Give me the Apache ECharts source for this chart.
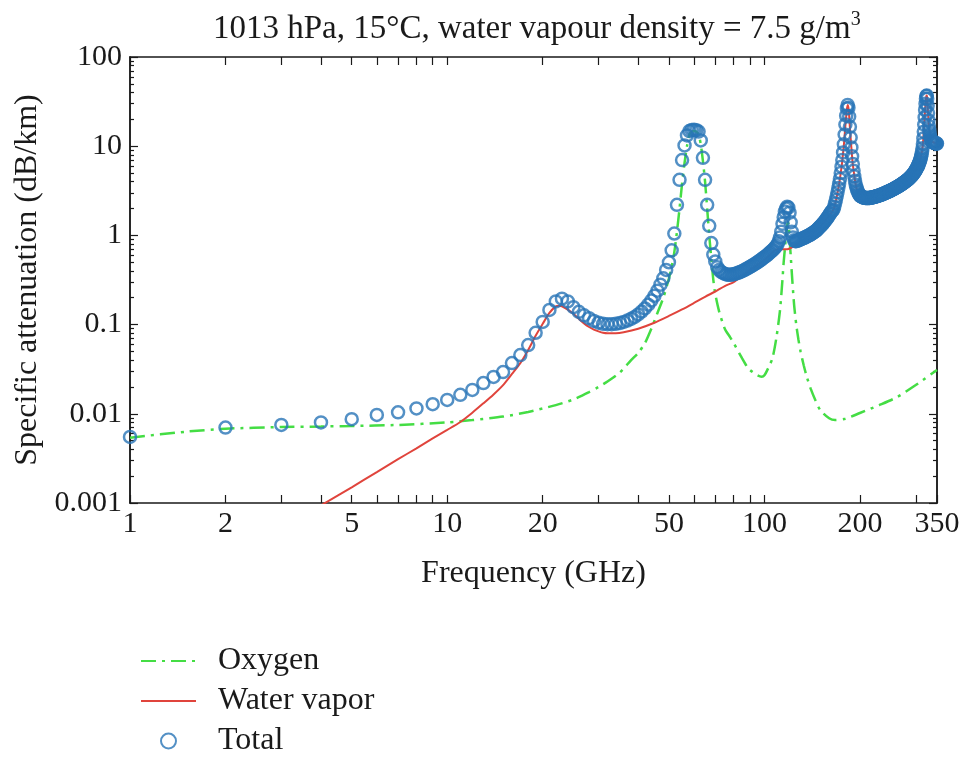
<!DOCTYPE html>
<html>
<head>
<meta charset="utf-8">
<script src="https://cdn.jsdelivr.net/npm/echarts@6/dist/echarts.min.js"></script>
<style>html,body{margin:0;padding:0;background:#fff}#c{width:966px;height:757px}</style>
</head>
<body>
<div id="c"></div>
<script>
// ---- axis ticks / labels ----
const xTickLabels = [1, 2, 5, 10, 20, 50, 100, 200, 350];
const xTicks = [1, 2, 3, 4, 5, 6, 7, 8, 9, 10, 20, 30, 40, 50, 60, 70, 80, 90, 100, 200, 300, 350];
const yTickLabels = [0.001, 0.01, 0.1, 1, 10, 100];
const yMinorTicks = [0.002, 0.003, 0.004, 0.005, 0.006, 0.007, 0.008, 0.009,
  0.02, 0.03, 0.04, 0.05, 0.06, 0.07, 0.08, 0.09,
  0.2, 0.3, 0.4, 0.5, 0.6, 0.7, 0.8, 0.9,
  2, 3, 4, 5, 6, 7, 8, 9,
  20, 30, 40, 50, 60, 70, 80, 90];

// ---- series: [frequency GHz, dB/km] ----
const oxygen = [
  [1, 0.0054], [1.5, 0.0063], [2, 0.0068], [3, 0.0071], [4, 0.0072], [5, 0.0073], [7, 0.0075],
  [10, 0.0080], [12, 0.0085], [15, 0.0093], [18, 0.0105], [20, 0.0115], [22, 0.0125], [25, 0.0145],
  [28, 0.0175], [30, 0.020], [32, 0.023], [35, 0.029], [38, 0.040], [40, 0.048], [42, 0.062],
  [44, 0.090], [46, 0.135], [48, 0.20], [50, 0.33], [51, 0.45], [52, 0.65], [53, 1.1], [54, 2.0],
  [55, 3.8], [56, 6.5], [57, 10], [58, 13.5], [59, 14.5], [60, 14.8], [61, 14.5], [62, 13.5],
  [63, 10.5], [64, 6.8], [65, 4.0], [66, 2.0], [67, 1.0], [68, 0.55], [69, 0.32], [70, 0.22],
  [72, 0.14], [75, 0.09], [78, 0.072], [80, 0.062], [85, 0.042], [88, 0.034], [90, 0.031],
  [95, 0.027], [98, 0.026], [100, 0.027], [103, 0.033], [106, 0.042], [109, 0.07], [112, 0.146],
  [114, 0.32], [115, 0.5], [116, 0.7], [117, 1.0], [118, 1.3], [118.75, 1.4], [119.5, 1.2],
  [120, 0.95], [121, 0.6], [122, 0.38], [124, 0.17], [126, 0.1], [128, 0.068], [130, 0.05],
  [133, 0.035], [136, 0.026], [140, 0.019], [145, 0.014], [150, 0.011], [160, 0.0089],
  [167, 0.0085], [180, 0.0088], [200, 0.0102], [230, 0.0125], [262, 0.0154], [300, 0.021],
  [350, 0.031]
];

const waterVapor = [
  [4, 0.00094], [5, 0.0015], [6, 0.00222], [7, 0.0031], [8, 0.0041], [9, 0.0053], [10, 0.0066],
  [11, 0.0081], [12, 0.0103], [13, 0.0131], [14, 0.0165], [15, 0.021], [16, 0.028], [17, 0.037],
  [18, 0.052], [19, 0.075], [20, 0.102], [21, 0.135], [22, 0.16], [22.5, 0.163], [23, 0.16],
  [24, 0.147], [25, 0.132], [26, 0.116], [27, 0.103], [28, 0.094], [29, 0.088], [30, 0.084],
  [31, 0.081], [32, 0.08], [34, 0.08], [36, 0.082], [40, 0.09], [45, 0.105], [50, 0.125],
  [55, 0.148], [60, 0.175], [65, 0.205], [70, 0.235], [75, 0.27], [80, 0.30], [85, 0.35],
  [90, 0.41], [100, 0.53], [110, 0.70], [118, 0.70], [130, 0.86], [140, 1.01], [150, 1.25],
  [160, 1.68], [165, 1.94], [170, 3.0], [175, 5.8], [178, 10.3], [180, 17], [182, 26],
  [183.3, 29], [184.5, 25], [186, 16], [188, 9.6], [190, 6.2], [195, 3.4], [200, 2.78],
  [210, 2.6], [220, 2.66], [240, 2.96], [260, 3.41], [280, 4.07], [300, 5.37], [310, 7.03],
  [315, 9.5], [318, 14.5], [320, 21], [322, 30], [324, 36.5], [325.15, 37], [326, 34],
  [328, 23.5], [330, 16.8], [335, 12], [340, 11.1], [350, 10.7]
];

// Total: sampled every 1 GHz, starting at 1 GHz
const totalStartGHz = 1;
const totalStepGHz = 1;
const totalValues = [
  0.0055, 0.0070, 0.0075, 0.0080, 0.0087, 0.0097, 0.0104, 0.0115, 0.0128, 0.0143,
  0.0163, 0.0185, 0.0221, 0.0259, 0.0294, 0.037, 0.0456, 0.059, 0.081, 0.107,
  0.146, 0.182, 0.195, 0.182, 0.157, 0.139, 0.127, 0.118, 0.110, 0.105,
  0.102, 0.101, 0.101, 0.102, 0.104, 0.107, 0.111, 0.116, 0.122, 0.130,
  0.140, 0.152, 0.167, 0.186, 0.21, 0.24, 0.28, 0.33, 0.41, 0.50,
  0.68, 1.05, 2.2, 4.2, 7.0, 10.2, 13.2, 14.8, 15.2, 15.3,
  15.1, 14.6, 11.6, 7.4, 4.2, 2.2, 1.28, 0.82, 0.61, 0.51,
  0.44, 0.41, 0.39, 0.38, 0.37, 0.365, 0.362, 0.362, 0.364, 0.368,
  0.372, 0.377, 0.383, 0.39, 0.397, 0.405, 0.414, 0.423, 0.433, 0.443,
  0.453, 0.464, 0.475, 0.487, 0.50, 0.512, 0.525, 0.54, 0.555, 0.57,
  0.585, 0.60, 0.62, 0.64, 0.66, 0.68, 0.70, 0.73, 0.76, 0.80,
  0.86, 0.95, 1.1, 1.35, 1.6, 1.85, 2.0, 2.1, 2.05, 1.8,
  1.4, 1.1, 0.95, 0.88, 0.86, 0.86, 0.87, 0.88, 0.89, 0.905,
  0.915, 0.925, 0.935, 0.945, 0.96, 0.97, 0.985, 1.0, 1.01, 1.03,
  1.045, 1.06, 1.08, 1.1, 1.12, 1.14, 1.17, 1.2, 1.23, 1.26,
  1.29, 1.32, 1.36, 1.4, 1.44, 1.48, 1.53, 1.58, 1.63, 1.69,
  1.75, 1.81, 1.87, 1.91, 1.95, 2.1, 2.28, 2.5, 2.75, 3.05,
  3.4, 3.8, 4.3, 5.0, 5.9, 7.0, 8.5, 10.5, 13.5, 17.5,
  22, 26.5, 29, 27, 21.5, 16.5, 12.5, 9.7, 7.7, 6.3,
  5.3, 4.6, 4.1, 3.7, 3.45, 3.25, 3.1, 2.98, 2.88, 2.8,
  2.76, 2.73, 2.70, 2.68, 2.66, 2.65, 2.64, 2.63, 2.62, 2.62,
  2.62, 2.62, 2.62, 2.63, 2.63, 2.64, 2.65, 2.66, 2.67, 2.68,
  2.69, 2.70, 2.71, 2.72, 2.74, 2.75, 2.76, 2.78, 2.79, 2.81,
  2.82, 2.84, 2.85, 2.87, 2.89, 2.90, 2.92, 2.94, 2.96, 2.98,
  3.00, 3.02, 3.04, 3.06, 3.08, 3.10, 3.12, 3.14, 3.16, 3.18,
  3.21, 3.23, 3.25, 3.28, 3.30, 3.33, 3.35, 3.38, 3.40, 3.43,
  3.46, 3.49, 3.51, 3.54, 3.57, 3.60, 3.63, 3.66, 3.69, 3.73,
  3.76, 3.79, 3.83, 3.86, 3.90, 3.93, 3.97, 4.01, 4.05, 4.09,
  4.13, 4.17, 4.22, 4.26, 4.31, 4.36, 4.41, 4.46, 4.52, 4.58,
  4.64, 4.71, 4.78, 4.85, 4.93, 5.01, 5.10, 5.19, 5.29, 5.40,
  5.51, 5.63, 5.76, 5.90, 6.05, 6.21, 6.39, 6.59, 6.81, 7.06,
  7.35, 7.70, 8.1, 8.7, 9.5, 10.6, 12.2, 14.5, 17.5, 21,
  25.5, 30, 34, 36.5, 37, 34, 28.5, 23.5, 19.5, 16.8,
  15, 13.8, 13, 12.4, 12, 11.7, 11.5, 11.3, 11.2, 11.1,
  11.0, 10.95, 10.9, 10.85, 10.8, 10.78, 10.75, 10.73, 10.72, 10.7
];

const FONT = '"Liberation Serif", "DejaVu Serif", serif';
const INK = '#1a1a1a';
const BLUE = '#2874b6';
const GREEN = '#44dd44';
const RED = '#e0443c';
const fmt = v => String(+Number(v).toPrecision(6));

const axisLine = { show: true, onZero: false, lineStyle: { color: INK, width: 1.5 } };
const tickStyle = { color: INK, width: 1.2 };

function xAx(pos, withLabels) {
  return {
    type: 'log', min: 1, max: 350, position: pos,
    axisLine: axisLine,
    axisTick: { show: true, inside: true, length: 8, customValues: xTicks, lineStyle: tickStyle },
    minorTick: { show: false },
    splitLine: { show: false },
    axisLabel: withLabels ? {
      show: true, customValues: xTickLabels, formatter: fmt,
      fontFamily: FONT, fontSize: 30, color: INK, margin: 6
    } : { show: false },
    name: withLabels ? 'Frequency (GHz)' : '',
    nameLocation: 'middle', nameGap: 55,
    nameTextStyle: { fontFamily: FONT, fontSize: 32, color: INK }
  };
}
function yAx(pos, minor, withLabels) {
  return {
    type: 'log', min: 0.001, max: 100, position: pos,
    axisLine: axisLine,
    axisTick: { show: true, inside: true, length: minor ? 4 : 8,
      customValues: minor ? yMinorTicks : yTickLabels, lineStyle: tickStyle },
    minorTick: { show: false },
    splitLine: { show: false },
    axisLabel: withLabels ? {
      show: true, customValues: yTickLabels, formatter: fmt,
      fontFamily: FONT, fontSize: 30, color: INK, margin: 8
    } : { show: false },
    name: withLabels ? 'Specific attenuation (dB/km)' : '',
    nameLocation: 'middle', nameGap: 82,
    nameTextStyle: { fontFamily: FONT, fontSize: 32, color: INK }
  };
}

const chart = echarts.init(document.getElementById('c'), null, { renderer: 'canvas' });
chart.setOption({
  animation: false,
  backgroundColor: '#fff',
  title: {
    text: '1013 hPa, 15°C, water vapour density = 7.5 g/m{sup|3}',
    left: 208, top: 5,
    textStyle: {
      fontFamily: FONT, fontSize: 33, fontWeight: 'normal', color: INK, lineHeight: 38,
      rich: { sup: { fontFamily: FONT, fontSize: 20, lineHeight: 20, verticalAlign: 'top', color: INK } }
    }
  },
  grid: { left: 130, right: 29, top: 57, bottom: 254, containLabel: false },
  xAxis: [xAx('bottom', true), xAx('top', false)],
  yAxis: [yAx('left', false, true), yAx('left', true, false), yAx('right', false, false), yAx('right', true, false)],
  legend: {
    orient: 'vertical', left: 140, top: 643, height: 130, padding: 0,
    itemWidth: 55, itemHeight: 15, itemGap: 4,
    textStyle: { fontFamily: FONT, fontSize: 32, color: INK, lineHeight: 36, padding: [0, 0, 0, 17] },
    data: [
      { name: 'Oxygen', itemStyle: { opacity: 0 } },
      { name: 'Water vapor', itemStyle: { opacity: 0 } },
      { name: 'Total' }
    ]
  },
  series: [
    {
      name: 'Oxygen', type: 'line', data: oxygen, xAxisIndex: 0, yAxisIndex: 0,
      symbol: 'none', showSymbol: false, smooth: 0.25, z: 2,
      lineStyle: { color: GREEN, width: 2.5, type: [15, 6, 3, 6] },
      itemStyle: { color: GREEN }
    },
    {
      name: 'Water vapor', type: 'line', data: waterVapor, xAxisIndex: 0, yAxisIndex: 0,
      symbol: 'none', showSymbol: false, smooth: 0.25, z: 3,
      lineStyle: { color: RED, width: 2 },
      itemStyle: { color: RED }
    },
    {
      name: 'Total', type: 'scatter', xAxisIndex: 0, yAxisIndex: 0, z: 4,
      data: totalValues.map((v, i) => [totalStartGHz + i * totalStepGHz, v]),
      symbol: 'circle', symbolSize: 12,
      itemStyle: { color: 'rgba(255,255,255,0)', borderColor: BLUE, borderWidth: 2.5 }
    }
  ]
});
</script>
</body>
</html>
